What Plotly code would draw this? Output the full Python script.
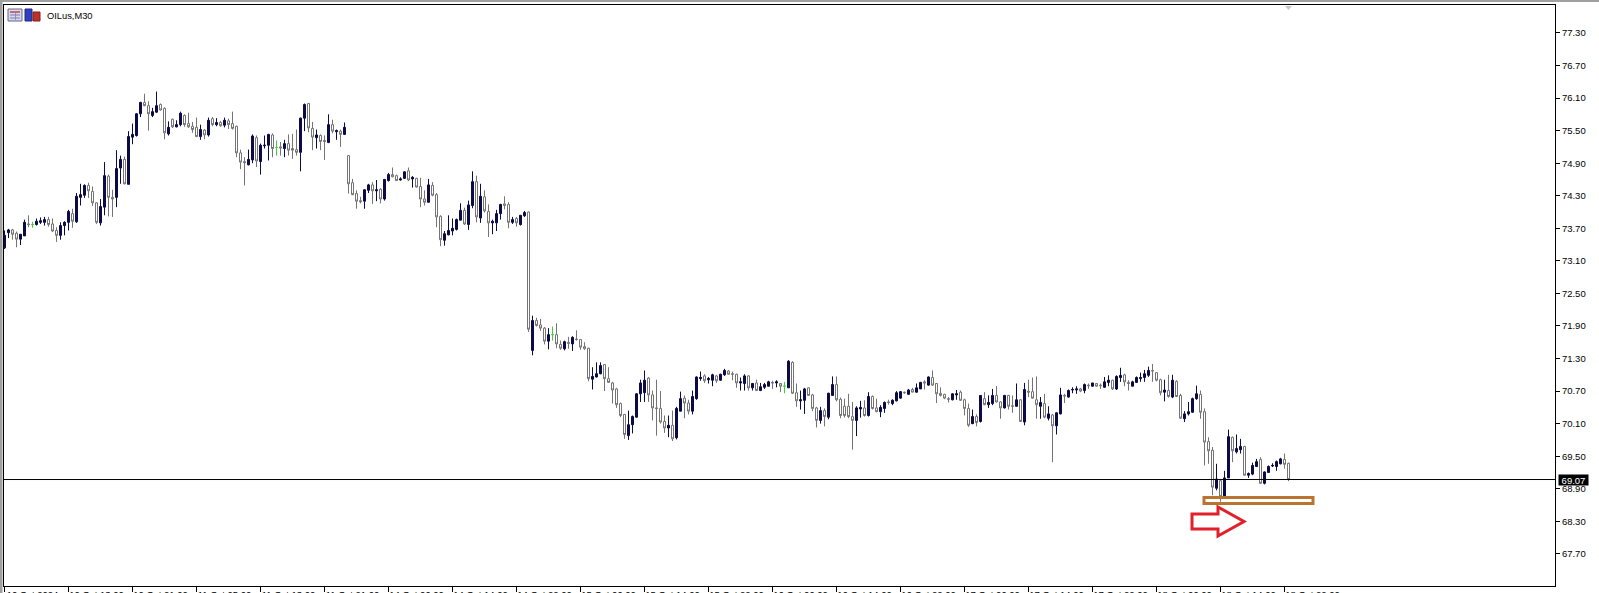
import plotly.graph_objects as go

opens = [73.34,73.62,73.67,73.61,73.50,73.56,73.78,73.77,73.77,73.81,
73.81,73.86,73.78,73.66,73.57,73.75,73.81,73.97,73.82,74.27,
74.31,74.49,74.38,74.17,73.80,74.09,74.66,74.27,74.27,74.81,
74.97,74.51,75.38,75.41,75.81,76.02,75.96,75.78,75.84,75.98,
75.91,75.44,75.71,75.57,75.61,75.78,75.63,75.58,75.56,75.39,
75.51,75.42,75.72,75.61,75.65,75.60,75.68,75.63,75.58,75.09,
74.93,74.87,74.96,75.37,74.93,75.22,75.23,75.42,75.19,75.20,
75.17,75.26,75.17,75.15,75.10,75.73,76.00,75.54,75.37,75.41,
75.32,75.28,75.61,75.48,75.49,75.43,75.04,74.54,74.34,74.21,
74.20,74.40,74.50,74.39,74.42,74.24,74.58,74.69,74.67,74.59,
74.62,74.76,74.61,74.62,74.47,74.24,74.18,74.49,74.32,73.92,
73.48,73.58,73.65,73.68,73.85,74.03,73.77,74.12,74.56,73.89,
74.28,74.01,73.80,73.80,73.97,74.15,74.14,73.81,73.88,73.77,
73.93,74.00,71.45,72.00,71.92,71.86,71.62,71.74,71.74,71.56,
71.48,71.60,71.57,71.66,71.65,71.52,71.49,70.92,70.96,71.02,
71.19,70.93,70.85,70.74,70.47,70.27,69.88,70.08,70.22,70.65,
70.67,70.94,70.63,70.39,70.38,70.14,70.02,70.07,69.84,70.33,
70.57,70.48,70.33,70.56,70.93,70.98,70.91,70.90,70.98,70.90,
71.00,71.07,71.02,71.01,70.85,70.84,70.98,70.76,70.85,70.71,
70.77,70.79,70.86,70.85,70.84,70.79,70.76,71.23,70.67,70.52,
70.53,70.76,70.63,70.39,70.16,70.34,70.22,70.62,70.82,70.55,
70.42,70.42,70.23,70.16,70.37,70.39,70.25,70.60,70.39,70.32,
70.38,70.50,70.47,70.52,70.57,70.68,70.64,70.73,70.68,70.74,
70.87,70.81,70.95,70.84,70.66,70.64,70.56,70.54,70.63,70.68,
70.54,70.38,70.10,70.23,70.14,70.56,70.45,70.47,70.62,70.50,
70.39,70.62,70.43,70.42,70.54,70.13,70.70,70.69,70.54,70.42,
70.47,70.20,70.26,70.06,70.28,70.62,70.59,70.72,70.72,70.74,
70.71,70.81,70.79,70.84,70.81,70.77,70.86,70.90,70.74,70.95,
71.00,70.86,70.79,70.86,70.93,70.95,70.99,71.08,71.04,70.91,
70.68,70.71,70.59,70.88,70.62,70.19,70.28,70.31,70.56,70.64,
70.32,69.77,69.61,68.91,69.05,68.76,69.10,69.85,69.58,69.62,
69.68,69.15,69.17,69.31,69.44,69.00,69.20,69.32,69.31,69.36,69.44,69.37]

highs = [73.66,73.69,73.69,73.64,73.59,73.86,73.94,73.82,73.88,73.90,
73.91,73.91,73.88,73.72,73.81,73.83,74.04,74.06,74.35,74.52,
74.51,74.54,74.47,74.18,74.24,74.92,74.69,74.41,75.14,75.04,
75.02,75.49,75.63,75.82,76.03,76.18,76.04,75.92,76.22,76.00,
75.93,75.67,75.72,75.69,75.85,75.80,75.83,75.66,75.74,75.61,
75.53,75.74,75.75,75.73,75.68,75.74,75.72,75.85,75.59,75.15,
75.01,75.15,75.43,75.41,75.26,75.41,75.44,75.45,75.32,75.29,
75.33,75.43,75.44,75.52,75.74,76.00,76.01,75.66,75.52,75.43,
75.41,75.80,75.70,75.52,75.52,75.65,75.04,74.61,74.40,74.28,
74.42,74.52,74.55,74.59,74.44,74.61,74.72,74.82,74.69,74.64,
74.75,74.82,74.66,74.63,74.63,74.40,74.61,74.55,74.35,73.94,
73.65,73.94,73.88,73.88,74.16,74.08,74.21,74.75,74.67,74.52,
74.40,74.14,73.86,74.04,74.15,74.29,74.18,73.91,73.91,73.94,
74.02,74.01,72.09,72.05,72.03,71.88,71.86,71.89,71.95,71.63,
71.63,71.70,71.71,71.82,71.65,71.60,71.50,71.14,71.23,71.23,
71.19,71.14,70.87,70.76,70.49,70.28,70.34,70.25,70.66,70.91,
71.08,70.96,70.71,70.91,70.70,70.25,70.25,70.34,70.41,70.69,
70.62,70.54,70.71,70.97,71.06,71.01,70.96,71.02,71.00,71.02,
71.11,71.09,71.06,71.02,70.95,71.01,70.99,70.85,70.91,70.85,
70.85,70.89,70.89,70.90,70.85,70.87,71.27,71.25,70.84,70.71,
70.76,70.77,70.65,70.41,70.41,70.38,70.67,70.97,70.97,70.58,
70.56,70.65,70.50,70.42,70.52,70.53,70.68,70.62,70.56,70.44,
70.51,70.54,70.55,70.70,70.70,70.69,70.74,70.76,70.84,70.87,
70.90,70.97,71.08,70.85,70.77,70.65,70.59,70.66,70.72,70.71,
70.56,70.47,70.36,70.27,70.62,70.68,70.62,70.74,70.79,70.51,
70.63,70.63,70.62,70.84,70.55,70.85,70.91,70.95,70.97,70.59,
70.65,70.42,70.28,70.31,70.76,70.65,70.73,70.77,70.79,70.76,
70.84,70.84,70.85,70.85,70.84,70.96,70.99,70.91,70.99,71.13,
71.02,70.90,70.89,70.97,71.04,71.09,71.15,71.20,71.05,70.93,
70.91,71.00,71.00,70.90,70.65,70.33,70.50,70.58,70.80,70.71,
70.38,69.85,69.67,69.36,69.07,69.23,69.99,69.86,69.90,69.82,
69.69,69.20,69.38,69.45,69.48,69.22,69.33,69.37,69.42,69.47,69.55,69.38]

lows = [73.32,73.52,73.49,73.35,73.39,73.56,73.72,73.71,73.75,73.78,
73.75,73.73,73.63,73.45,73.49,73.57,73.66,73.71,73.80,74.12,
74.26,74.26,74.11,73.78,73.75,73.94,73.92,73.91,74.09,74.52,
74.51,74.51,75.25,75.39,75.75,75.95,75.50,75.75,75.83,75.87,
75.34,75.41,75.55,75.56,75.58,75.57,75.55,75.46,75.38,75.33,
75.34,75.39,75.58,75.58,75.57,75.56,75.53,75.52,75.01,74.79,
74.49,74.86,74.90,74.83,74.69,75.17,74.95,75.01,75.04,75.04,
75.01,75.04,74.98,75.04,74.75,75.49,75.47,75.14,75.17,75.14,
74.96,75.27,75.45,75.33,75.20,75.42,74.34,74.31,74.06,74.16,
74.06,74.35,74.15,74.20,74.16,74.21,74.56,74.64,74.57,74.58,
74.61,74.57,74.45,74.45,74.09,74.12,74.17,74.29,73.72,73.37,
73.38,73.57,73.57,73.66,73.85,73.76,73.67,74.07,73.81,73.80,
73.99,73.54,73.59,73.65,73.86,74.05,73.70,73.78,73.73,73.75,
73.91,71.79,71.36,71.89,71.81,71.56,71.47,71.63,71.49,71.46,
71.45,71.48,71.44,71.63,71.46,71.46,70.88,70.73,70.95,71.01,
70.70,70.85,70.47,70.39,70.22,69.82,69.80,69.92,70.21,70.50,
70.50,70.50,70.16,69.88,70.10,69.93,69.85,69.78,69.81,70.33,
70.20,70.27,70.27,70.54,70.89,70.85,70.84,70.79,70.85,70.89,
70.98,71.00,70.90,70.76,70.71,70.71,70.71,70.71,70.70,70.70,
70.74,70.79,70.74,70.77,70.68,70.66,70.76,70.65,70.41,70.36,
70.28,70.61,70.33,70.03,70.10,70.05,70.18,70.61,70.51,70.20,
70.21,70.20,69.62,69.87,70.21,70.23,70.23,70.36,70.31,70.22,
70.30,70.45,70.44,70.51,70.56,70.65,70.63,70.68,70.67,70.74,
70.73,70.80,70.80,70.48,70.60,70.55,70.49,70.53,70.54,70.52,
70.25,70.04,70.09,70.05,70.12,70.44,70.39,70.44,70.49,70.19,
70.38,70.36,70.30,70.41,70.13,70.07,70.59,70.56,70.19,70.19,
70.20,70.16,69.39,69.90,70.27,70.48,70.58,70.66,70.65,70.68,
70.66,70.74,70.78,70.78,70.74,70.76,70.79,70.72,70.72,70.87,
70.79,70.71,70.79,70.85,70.87,70.87,70.96,70.87,70.88,70.62,
70.51,70.58,70.57,70.59,70.19,70.13,70.25,70.30,70.54,70.19,
69.33,69.36,68.78,68.87,68.66,68.76,69.10,69.39,69.55,69.55,
69.14,69.10,69.15,69.30,68.99,68.98,69.19,69.30,69.23,69.35,69.27,69.04]

closes = [73.57,73.67,73.59,73.50,73.59,73.81,73.77,73.77,73.83,73.84,
73.86,73.77,73.65,73.57,73.75,73.81,74.01,73.83,74.29,74.32,
74.49,74.39,74.17,73.81,74.10,74.67,74.27,74.24,74.80,74.97,
74.52,75.39,75.43,75.81,76.02,75.96,75.81,75.85,75.96,75.88,
75.46,75.56,75.57,75.61,75.82,75.61,75.57,75.52,75.39,75.52,
75.42,75.69,75.61,75.65,75.59,75.69,75.61,75.54,75.09,74.92,
74.91,74.97,75.40,74.94,75.23,75.23,75.43,75.17,75.19,75.18,
75.26,75.14,75.14,75.10,75.73,75.98,75.55,75.38,75.42,75.30,
75.30,75.61,75.49,75.50,75.43,75.56,74.52,74.32,74.20,74.19,
74.41,74.50,74.39,74.41,74.24,74.60,74.69,74.65,74.58,74.61,
74.74,74.59,74.64,74.46,74.24,74.18,74.50,74.31,73.91,73.49,
73.60,73.66,73.70,73.86,74.03,73.78,74.13,74.56,73.91,74.29,
74.02,73.80,73.83,73.97,74.14,74.12,73.81,73.86,73.80,73.94,
73.99,71.84,72.00,71.91,71.86,71.62,71.74,71.74,71.57,71.49,
71.61,71.58,71.69,71.65,71.51,71.48,70.93,70.97,71.02,71.17,
70.93,70.86,70.72,70.45,70.25,69.90,70.08,70.23,70.65,70.85,
70.90,70.63,70.39,70.38,70.13,70.02,70.07,69.82,70.38,70.56,
70.48,70.33,70.60,70.96,70.95,70.89,70.93,71.00,70.89,71.01,
71.08,71.01,71.01,70.85,70.87,70.98,70.76,70.84,70.71,70.78,
70.82,70.87,70.85,70.87,70.79,70.79,71.25,70.66,70.52,70.54,
70.74,70.62,70.38,70.16,70.34,70.23,70.66,70.82,70.54,70.25,
70.25,70.23,70.16,70.39,70.40,70.25,70.60,70.38,70.32,70.40,
70.49,70.49,70.53,70.67,70.69,70.67,70.72,70.68,70.76,70.86,
70.85,70.96,70.81,70.65,70.62,70.57,70.55,70.65,70.65,70.53,
70.38,70.07,70.23,70.12,70.62,70.45,70.49,70.62,70.50,70.39,
70.62,70.42,70.42,70.54,70.14,70.73,70.68,70.57,70.45,70.49,
70.22,70.28,70.06,70.30,70.63,70.61,70.71,70.73,70.74,70.70,
70.82,70.80,70.85,70.79,70.80,70.87,70.90,70.74,70.97,70.99,
70.87,70.84,70.87,70.95,70.95,71.02,71.08,71.07,70.90,70.67,
70.72,70.60,70.90,70.60,70.20,70.28,70.32,70.56,70.65,70.31,
69.76,69.60,68.93,69.08,68.76,69.10,69.86,69.60,69.64,69.68,
69.15,69.18,69.33,69.40,69.00,69.21,69.31,69.33,69.40,69.45,69.35,69.07]

tick_labels = ["10 Oct 2024","10 Oct 13:00","10 Oct 21:00","11 Oct 05:00","11 Oct 13:00","11 Oct 21:00",
               "14 Oct 06:00","14 Oct 14:00","14 Oct 22:00","15 Oct 06:00","15 Oct 14:00","15 Oct 22:00",
               "16 Oct 06:00","16 Oct 14:00","16 Oct 22:00","17 Oct 06:00","17 Oct 14:00","17 Oct 22:00",
               "18 Oct 06:00","18 Oct 14:00","18 Oct 22:00"]
candles_per_tick = 16
price_ticks = [77.30,76.70,76.10,75.50,74.90,74.30,73.70,73.10,72.50,71.90,71.30,70.70,70.10,69.50,68.90,68.30,67.70]
last_price = 69.07
support_low, support_high = 68.63, 68.74

W, H = 1599, 593
L, R, T, B = 4, 44, 5, 7
pw, ph = W - L - R, H - T - B
def px(v): return (v - L) / pw
def py(v): return 1 - (v - T) / ph

NAVY, GREY, GREEN = "#0b0b45", "#747474", "#3ad23a"
idx = list(range(len(opens)))
main = [i for i in idx if opens[i] != closes[i]]
doji = [i for i in idx if opens[i] == closes[i]]

fig = go.Figure()
fig.add_trace(go.Candlestick(
    x=main, open=[opens[i] for i in main], high=[highs[i] for i in main],
    low=[lows[i] for i in main], close=[closes[i] for i in main],
    increasing=dict(line=dict(color=NAVY, width=1), fillcolor=NAVY),
    decreasing=dict(line=dict(color=GREY, width=1), fillcolor="#ffffff"),
    whiskerwidth=0, showlegend=False, hoverinfo="skip"))
fig.add_trace(go.Candlestick(
    x=doji, open=[opens[i] for i in doji], high=[highs[i] for i in doji],
    low=[lows[i] for i in doji], close=[closes[i] for i in doji],
    increasing=dict(line=dict(color=GREEN, width=1), fillcolor=GREEN),
    decreasing=dict(line=dict(color=GREEN, width=1), fillcolor=GREEN),
    whiskerwidth=0, showlegend=False, hoverinfo="skip"))

def rect(x0, y0, x1, y1, fill, line=None, lw=0):
    return dict(type="rect", xref="paper", yref="paper", x0=px(x0), x1=px(x1), y0=py(y0), y1=py(y1),
                fillcolor=fill, line=dict(color=line or fill, width=lw), layer="above")

def poly(points, fill, line, lw):
    d = "M " + " L ".join(f"{px(a):.5f} {py(b):.5f}" for a, b in points) + " Z"
    return dict(type="path", xref="paper", yref="paper", path=d, fillcolor=fill,
                line=dict(color=line, width=lw), layer="above")

shapes = [
    rect(0, 0, W, 2, "#a0a0a0"),
    rect(0, 0, 2.5, H, "#a0a0a0"),
    dict(type="line", xref="paper", yref="y", x0=0, x1=1, y0=last_price, y1=last_price,
         line=dict(color="#000000", width=1), layer="above"),
    dict(type="rect", xref="paper", yref="y", x0=px(1204), x1=px(1313), y0=support_low, y1=support_high,
         fillcolor="rgba(0,0,0,0)", line=dict(color="#b9742f", width=3), layer="above"),
    poly([(1192, 514), (1218, 514), (1218, 507), (1244, 521.5), (1218, 536), (1218, 529), (1192, 529)],
         "rgba(0,0,0,0)", "#e0202a", 3),
    poly([(1285, 6), (1292, 6), (1288.5, 10)], "#c8c8c8", "#c8c8c8", 0),
    rect(8, 9, 22, 21, "#d8d8ee", "#666688", 1),
    rect(10, 11, 20, 13, "#c86a6a"),
    rect(10, 14.5, 20, 15.5, "#7a7ab8"),
    rect(10, 17.5, 20, 18.5, "#7a7ab8"),
    rect(15, 11, 15.8, 20, "#8888aa"),
    rect(25, 9, 32, 21, "#2f3fc0", "#222a80", 1),
    rect(33, 12, 40, 21, "#c03028", "#802018", 1),
]

fig.update_layout(
    width=W, height=H, autosize=False, paper_bgcolor="#ffffff", plot_bgcolor="#ffffff",
    margin=dict(l=L, r=R, t=T, b=B, autoexpand=False), shapes=shapes, showlegend=False, dragmode=False,
    boxgap=0.293, boxgroupgap=0.293,
    font=dict(family="Liberation Sans", size=9.5, color="#000000"),
    annotations=[
        dict(text="OILus,M30", xref="paper", yref="paper", x=px(45), y=py(15.5), xanchor="left", yanchor="middle",
             showarrow=False, font=dict(family="Liberation Sans", size=9.3, color="#000000")),
        dict(text="69.07", xref="paper", yref="y", x=px(1558), y=last_price, xanchor="left", yanchor="middle",
             showarrow=False, bgcolor="#000000", borderpad=0, width=29, height=10, align="center",
             font=dict(family="Liberation Sans", size=9.5, color="#ffffff")),
    ],
)
fig.update_xaxes(
    range=[-0.125, 387.625], showgrid=False, zeroline=False, rangeslider_visible=False, automargin=False,
    showline=True, linecolor="#000000", linewidth=1, mirror=True,
    tickmode="array", tickvals=[i * candles_per_tick for i in range(len(tick_labels))], ticktext=tick_labels,
    ticks="outside", ticklen=5, tickwidth=1, tickcolor="#000000", ticklabelshift=28, ticklabelstandoff=-5,
    tickfont=dict(family="Liberation Sans", size=9.5, color="#000000"), tickangle=0)
fig.update_yaxes(
    range=[67.108, 77.815], side="right", showgrid=False, zeroline=False, automargin=False,
    showline=True, linecolor="#000000", linewidth=1, mirror=True,
    tickmode="array", tickvals=price_ticks, tickformat=".2f",
    ticks="outside", ticklen=4, tickwidth=1, tickcolor="#000000",
    tickfont=dict(family="Liberation Sans", size=9.5, color="#000000"))

fig.write_html("out.html", config={"displayModeBar": False},
               post_script="document.body.style.margin='0';document.body.style.overflow='hidden';")
